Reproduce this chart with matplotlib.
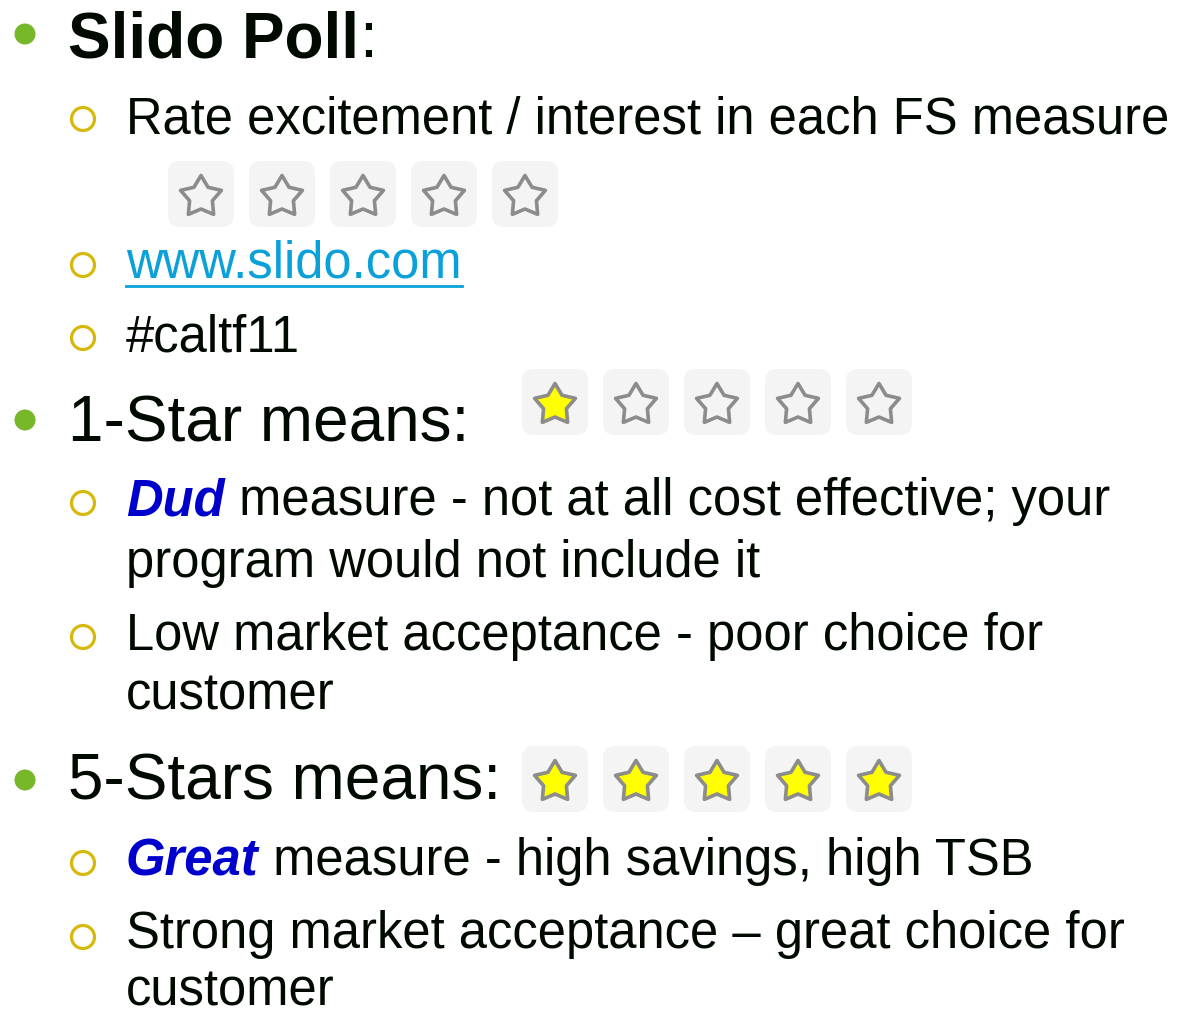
import numpy as np
import matplotlib
matplotlib.use("Agg")
import matplotlib.pyplot as plt
from matplotlib.patches import FancyBboxPatch, Polygon, Circle

plt.rcParams['font.family'] = ['Liberation Sans', 'DejaVu Sans']

W, H = 1184, 1010

# --- slide content ---
# a run is (text, style); runs on one line share a baseline
TITLE_RUNS = [("Slido Poll", "bold"), (":", "normal")]
ONE_STAR_RUNS = [("1-Star means:", "normal")]
FIVE_STAR_RUNS = [("5-Stars means:", "normal")]

SUB_POLL = ["Rate excitement / interest in each FS measure", "www.slido.com", "#caltf11"]
SUB_ONE = [[("Dud", "em"), (" measure - not at all cost effective; your", "normal")],
           [("program would not include it", "normal")],
           [("Low market acceptance - poor choice for", "normal")],
           [("customer", "normal")]]
SUB_FIVE = [[("Great", "em"), (" measure - high savings, high TSB", "normal")],
            [("Strong market acceptance \u2013 great choice for", "normal")],
            [("customer", "normal")]]

# star rows: how many stars are filled in each row of five
STAR_FILLED = [0, 1, 5]
N_STARS = 5

TEXT_COLOR = "#000a00"
GREEN = "#76b82a"
GOLD = "#d6b80a"
BLUE = "#0000cc"
LINK = "#0aa0d8"

fig = plt.figure(figsize=(W / 100, H / 100), dpi=100)
ax = fig.add_axes([0, 0, 1, 1])
ax.set_xlim(0, W)
ax.set_ylim(H, 0)
ax.axis("off")
renderer = fig.canvas.get_renderer()

L1_SIZE = 46
L2_SIZE = 36.5


def draw_runs(x, y, runs, size, color=TEXT_COLOR):
    """Draw consecutive text runs on one baseline, return the end x."""
    for txt, style in runs:
        kw = dict(fontsize=size, va="baseline", ha="left", color=color)
        if style == "bold":
            kw["fontweight"] = "bold"
        elif style == "em":
            kw.update(fontweight="bold", fontstyle="italic", color=BLUE)
        t = ax.text(x, y, txt, **kw)
        x += t.get_window_extent(renderer).width
    return x


def green_dot(y):
    ax.add_patch(Circle((25, y), 10.5, facecolor=GREEN, edgecolor="none"))


def gold_ring(y):
    ax.add_patch(Circle((83, y), 11.5, facecolor="none", edgecolor=GOLD, linewidth=2.3))


def star_points(cx, cy, R, r):
    ang = np.deg2rad(-90 + 36 * np.arange(10))
    rad = np.where(np.arange(10) % 2 == 0, R, r)
    return np.column_stack([cx + rad * np.cos(ang), cy + rad * np.sin(ang)])


def star_row(x0, y0, filled):
    box, step = 66, 81
    for i in range(N_STARS):
        bx = x0 + i * step
        ax.add_patch(FancyBboxPatch((bx + 6, y0 + 6), box - 12, box - 12,
                                    boxstyle="round,pad=6,rounding_size=12",
                                    facecolor="#f4f4f4", edgecolor="none"))
        fc = "#ffff00" if i < filled else "none"
        ax.add_patch(Polygon(star_points(bx + box / 2, y0 + box / 2 + 3, 21.5, 12),
                             closed=True, facecolor=fc, edgecolor="#8c8c8c",
                             linewidth=2.6, joinstyle="round"))


# Slido Poll block
green_dot(34)
draw_runs(68, 57, TITLE_RUNS, L1_SIZE)

gold_ring(119)
draw_runs(126, 133, [(SUB_POLL[0], "normal")], L2_SIZE)
star_row(168, 161, STAR_FILLED[0])

gold_ring(265)
x_end = draw_runs(126, 278, [(SUB_POLL[1], "normal")], L2_SIZE, color=LINK)
ax.plot([126, x_end], [285.5, 285.5], color=LINK, linewidth=2)

gold_ring(338)
draw_runs(126, 352, [(SUB_POLL[2], "normal")], L2_SIZE)

# 1-Star block
green_dot(420)
draw_runs(68, 441, ONE_STAR_RUNS, L1_SIZE)
star_row(522, 369, STAR_FILLED[1])

one_base = [515, 577, 650, 710]
for runs, yb in zip(SUB_ONE, one_base):
    draw_runs(126, yb, runs, L2_SIZE)
gold_ring(503)
gold_ring(637)

# 5-Stars block
green_dot(780)
draw_runs(68, 800, FIVE_STAR_RUNS, L1_SIZE)
star_row(522, 746, STAR_FILLED[2])

five_base = [875, 948, 1006]
for runs, yb in zip(SUB_FIVE, five_base):
    draw_runs(126, yb, runs, L2_SIZE)
gold_ring(863)
gold_ring(937)

fig.savefig("out.png", dpi=100)
